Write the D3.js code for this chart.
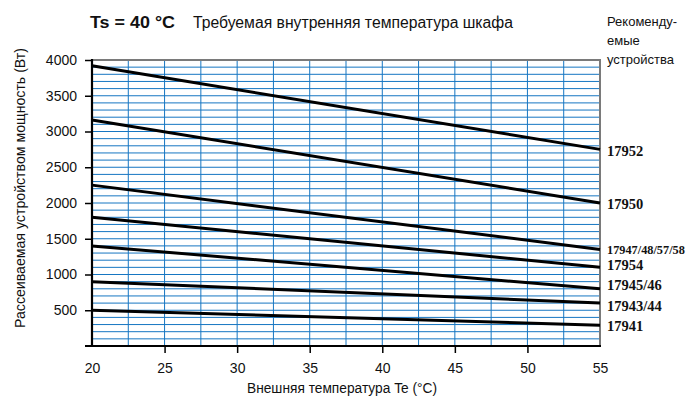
<!DOCTYPE html>
<html><head><meta charset="utf-8">
<script src="https://cdn.jsdelivr.net/npm/d3@7"></script>
<style>
body{margin:0;background:#fff;}
svg{display:block;font-family:"Liberation Sans",Arial,sans-serif;}
</style></head>
<body><svg id="c" width="692" height="396"></svg>
<script>
// Data
const series = ["17952","17950","17947/48/57/58","17954","17945/46","17943/44","17941"];
const tempX = [20, 55];
const valuesAt20 = [3920, 3160, 2250, 1800, 1400, 900, 500];
const valuesAt55 = [2750, 2000, 1350, 1100, 800, 600, 290];
const xTicks = [20, 25, 30, 35, 40, 45, 50, 55];
const yTicks = [500, 1000, 1500, 2000, 2500, 3000, 3500, 4000];
const titleBold = "Ts = 40 °C";
const titleText = "Требуемая внутренняя температура шкафа";
const xLabel = "Внешняя температура Te (°C)";
const yLabel = "Рассеиваемая устройством мощность (Вт)";
const legendTitle = ["Рекоменду-", "емые", "устройства"];

const svg = d3.select("#c");
const L = 92, R = 600, T = 60, B = 346;
const x = d3.scaleLinear().domain([20, 55]).range([L, R]);
const y = d3.scaleLinear().domain([0, 4000]).range([B, T]);

const grid = svg.append("g");
grid.selectAll("line.h").data(d3.range(100, 4000, 100)).join("line")
  .attr("x1", L).attr("x2", R).attr("y1", d => y(d)).attr("y2", d => y(d))
  .attr("stroke", "#1676c2").attr("stroke-width", 1);
grid.selectAll("line.v").data(d3.range(22.5, 55, 2.5)).join("line")
  .attr("x1", d => x(d)).attr("x2", d => x(d)).attr("y1", T).attr("y2", B)
  .attr("stroke", "#1676c2").attr("stroke-width", 1);

// frame top / right
svg.append("line").attr("x1", L).attr("x2", R + 1).attr("y1", T).attr("y2", T)
  .attr("stroke", "#7a7a7a").attr("stroke-width", 2);
svg.append("line").attr("x1", R).attr("x2", R).attr("y1", T).attr("y2", B)
  .attr("stroke", "#7a7a7a").attr("stroke-width", 2);

// axes
const yAxis = d3.axisLeft(y).tickValues(yTicks).tickFormat(d3.format("d"))
  .tickSize(7).tickPadding(8).tickSizeOuter(0);
const gy = svg.append("g").attr("transform", `translate(${L},0)`).call(yAxis);
gy.select(".domain").remove();
gy.selectAll(".tick line").attr("stroke", "#000").attr("stroke-width", 1.5);
gy.selectAll(".tick text").attr("font-size", 14).attr("fill", "#111")
  .attr("font-family", "Liberation Sans, Arial, sans-serif");

const xAxis = d3.axisBottom(x).tickValues(xTicks).tickFormat(d3.format("d"))
  .tickSize(7).tickPadding(10).tickSizeOuter(0);
const gx = svg.append("g").attr("transform", `translate(0,${B})`).call(xAxis);
gx.select(".domain").remove();
gx.selectAll(".tick line").attr("stroke", "#000").attr("stroke-width", 1.5)
  .attr("opacity", d => (d === 20 || d === 55) ? 0 : 1);
gx.selectAll(".tick text").attr("font-size", 14).attr("fill", "#111")
  .attr("font-family", "Liberation Sans, Arial, sans-serif");

svg.append("line").attr("x1", L).attr("x2", L).attr("y1", T - 1).attr("y2", B)
  .attr("stroke", "#000").attr("stroke-width", 2.2);
svg.append("line").attr("x1", 85).attr("x2", R + 1).attr("y1", B).attr("y2", B)
  .attr("stroke", "#000").attr("stroke-width", 2.2);

// series lines
const line = d3.line().x(d => x(d[0])).y(d => y(d[1]));
series.forEach((s, i) => {
  const pts = [[tempX[0], valuesAt20[i]], [tempX[1], valuesAt55[i]]];
  svg.append("path").attr("d", line(pts)).attr("fill", "none")
    .attr("stroke", "#000").attr("stroke-width", 3);
});

// series labels
const nudge = [2, 1, 0, -2, -4, 3, 1];
const labs = svg.append("g").selectAll("text").data(series).join("text")
  .attr("x", R + 7)
  .attr("y", (d, i) => y(valuesAt55[i]) + nudge[i])
  .attr("dy", "0.35em")
  .attr("font-family", "Liberation Serif, Times New Roman, serif")
  .attr("font-weight", "bold").attr("font-size", 14.5).attr("fill", "#111")
  .text(d => d);
labs.each(function () {
  const w = this.getComputedTextLength();
  if (w > 78) {
    d3.select(this).attr("font-size", 14.5 * 78 / w);
  }
});

// titles
svg.append("text").attr("x", 90).attr("y", 28)
  .attr("font-weight", "bold").attr("font-size", 17).attr("fill", "#111")
  .attr("textLength", 85).attr("lengthAdjust", "spacingAndGlyphs")
  .text(titleBold);
svg.append("text").attr("x", 193).attr("y", 28)
  .attr("font-size", 16).attr("fill", "#111")
  .attr("textLength", 320).attr("lengthAdjust", "spacingAndGlyphs")
  .text(titleText);

svg.append("g").selectAll("text").data(legendTitle).join("text")
  .attr("x", 607).attr("y", (d, i) => 26 + i * 19)
  .attr("font-size", 13).attr("fill", "#111")
  .text(d => d);

svg.append("text").attr("x", 342).attr("y", 393).attr("text-anchor", "middle")
  .attr("font-size", 14).attr("fill", "#111")
  .attr("textLength", 190).attr("lengthAdjust", "spacingAndGlyphs")
  .text(xLabel);

svg.append("text").attr("transform", "translate(25,188) rotate(-90)")
  .attr("text-anchor", "middle")
  .attr("font-size", 14).attr("fill", "#111")
  .attr("textLength", 280).attr("lengthAdjust", "spacingAndGlyphs")
  .text(yLabel);
</script></body></html>
